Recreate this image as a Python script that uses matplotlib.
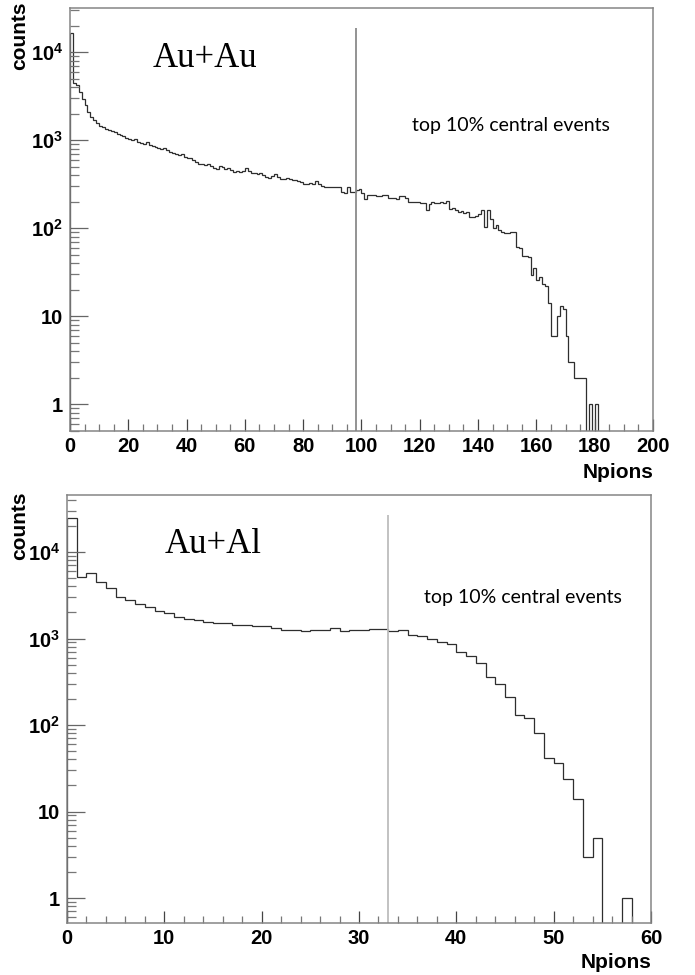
import numpy as np
import matplotlib.pyplot as plt
from matplotlib.ticker import FixedLocator, FuncFormatter, MultipleLocator, LogLocator, NullFormatter

plt.rcParams['font.family'] = 'Liberation Sans'
plt.rcParams['font.weight'] = 'bold'
plt.rcParams['mathtext.fontset'] = 'custom'
plt.rcParams['mathtext.bf'] = 'Liberation Sans:bold'
plt.rcParams['mathtext.rm'] = 'Liberation Sans:bold'

# Au+Au: Npions histogram, 200 bins of width 1 (0..200)
auau_counts = [
    16600, 4400, 4200, 3500, 2900, 2500, 2100, 1850, 1700, 1580,
    1450, 1400, 1340, 1300, 1260, 1220, 1180, 1130, 1100, 1060,
    1020, 1000, 1040, 960, 930, 900, 950, 880, 860, 830,
    810, 790, 820, 770, 740, 720, 700, 680, 690, 650,
    630, 620, 590, 560, 540, 530, 520, 530, 510, 480,
    470, 510, 500, 470, 480, 460, 435, 440, 430, 440,
    480, 440, 420, 425, 415, 420, 400, 380, 375, 390,
    410, 380, 365, 360, 370, 365, 350, 355, 340, 335,
    320, 318, 325, 320, 345, 315, 300, 291, 290, 295,
    295, 290, 292, 255, 252, 295, 260, 257, 270, 275,
    248, 214, 240, 237, 235, 230, 229, 240, 238, 220,
    219, 222, 215, 229, 230, 218, 200, 199, 198, 196,
    192, 195, 162, 190, 196, 195, 193, 198, 195, 205,
    166, 168, 162, 153, 155, 150, 152, 135, 134, 136,
    146, 160, 104, 160, 126, 100, 107, 96, 89, 88,
    88, 90, 89, 61, 60, 48, 48, 47, 29, 35,
    26, 28, 23, 22, 14, 6, 6, 10, 13, 12,
    6, 3, 3, 2, 2, 2, 2, 0, 1, 0,
    1, 0, 0, 0, 0, 0, 0, 0, 0, 0,
    0, 0, 0, 0, 0, 0, 0, 0, 0, 0,
]
auau_range = (0, 200)
auau_cut = 98
auau_cut_top = 1.87e4

# Au+Al: Npions histogram, 60 bins of width 1 (0..60)
aual_counts = [
    24500, 5150, 5750, 4550, 3800, 3030, 2790, 2500, 2300, 2100,
    1960, 1790, 1680, 1630, 1560, 1510, 1495, 1450, 1420, 1380,
    1410, 1310, 1260, 1260, 1235, 1260, 1260, 1310, 1235, 1260,
    1240, 1280, 1300, 1235, 1260, 1100, 1070, 1000, 900, 870,
    690, 630, 525, 355, 300, 210, 130, 121, 80, 42,
    36, 24, 14, 3, 5, 0, 0, 1, 0, 0,
]
aual_range = (0, 60)
aual_cut = 33
aual_cut_top = 2.67e4

y_ticks = [1, 10, 100, 1000, 10000]
y_labels = ['1', '10', r'$\mathbf{10^{2}}$', r'$\mathbf{10^{3}}$', r'$\mathbf{10^{4}}$']

frame_col = '#858585'


def draw_panel(ax, counts, xr, cut, cut_top, ylim, xmajor, xminor, system, sys_pos, txt_pos, cut_col):
    counts = np.array(counts, dtype=float)
    edges = np.arange(xr[0], xr[1] + 1)
    vals = np.where(counts > 0, counts, 1e-3)
    ax.stairs(vals, edges, baseline=None, color='#2e2e2e', lw=0.9)
    ax.vlines(0, 1e-3, vals[0], color='#2e2e2e', lw=0.9)
    ax.vlines(cut, 1e-3, cut_top, color=cut_col, lw=1.3)

    ax.set_yscale('log')
    ax.set_xlim(*xr)
    ax.set_ylim(*ylim)

    ax.yaxis.set_major_locator(FixedLocator(y_ticks))
    ax.yaxis.set_major_formatter(FuncFormatter(lambda v, p: y_labels[y_ticks.index(v)] if v in y_ticks else ''))
    ax.yaxis.set_minor_locator(LogLocator(base=10, subs=np.arange(2, 10), numticks=20))
    ax.yaxis.set_minor_formatter(NullFormatter())
    ax.xaxis.set_major_locator(MultipleLocator(xmajor))
    ax.xaxis.set_minor_locator(MultipleLocator(xminor))

    ax.tick_params(axis='y', which='major', direction='in', length=13, width=0.9, color='#666666',
                   pad=5, labelsize=14.5)
    ax.tick_params(axis='y', which='minor', direction='in', length=6.5, width=0.9, color='#777777')
    ax.tick_params(axis='x', which='major', direction='in', length=9, width=0.9, color='#444444',
                   pad=4, labelsize=14.5)
    ax.tick_params(axis='x', which='minor', direction='in', length=4.8, width=0.9, color='#777777')

    for sp in ax.spines.values():
        sp.set_color(frame_col)
        sp.set_linewidth(1.1)

    ax.text(sys_pos[0], sys_pos[1], system, transform=ax.transAxes, family='Liberation Serif',
            weight='normal', fontsize=25, va='baseline', ha='left')
    ax.text(txt_pos[0], txt_pos[1], 'top 10% central events', transform=ax.transAxes, family='Lato',
            weight='normal', fontsize=14, va='baseline', ha='left')


fig = plt.figure(figsize=(6.95, 9.75), dpi=100)
ax1 = fig.add_axes([0.1007, 0.5579, 0.8388, 0.4338])
ax2 = fig.add_axes([0.0964, 0.0533, 0.8403, 0.4390])

draw_panel(ax1, auau_counts, auau_range, auau_cut, auau_cut_top, (0.493, 31600), 20, 5,
           'Au+Au', (0.142, 0.861), (0.587, 0.71), '#8a8a8a')
draw_panel(ax2, aual_counts, aual_range, aual_cut, aual_cut_top, (0.514, 45600), 10, 2,
           'Au+Al', (0.168, 0.865), (0.611, 0.748), '#bdbdbd')

lab_font = dict(family='Liberation Sans', weight='bold', fontsize=15)
fig.text(20 / 695, 1 - 1 / 975, 'counts', rotation=90, va='top', ha='center', **lab_font)
fig.text(20 / 695, 1 - 492 / 975, 'counts', rotation=90, va='top', ha='center', **lab_font)
fig.text(653 / 695, 1 - 478 / 975, 'Npions', va='baseline', ha='right', **lab_font)
fig.text(651 / 695, 1 - 968 / 975, 'Npions', va='baseline', ha='right', **lab_font)

fig.savefig('out.png', dpi=100)
